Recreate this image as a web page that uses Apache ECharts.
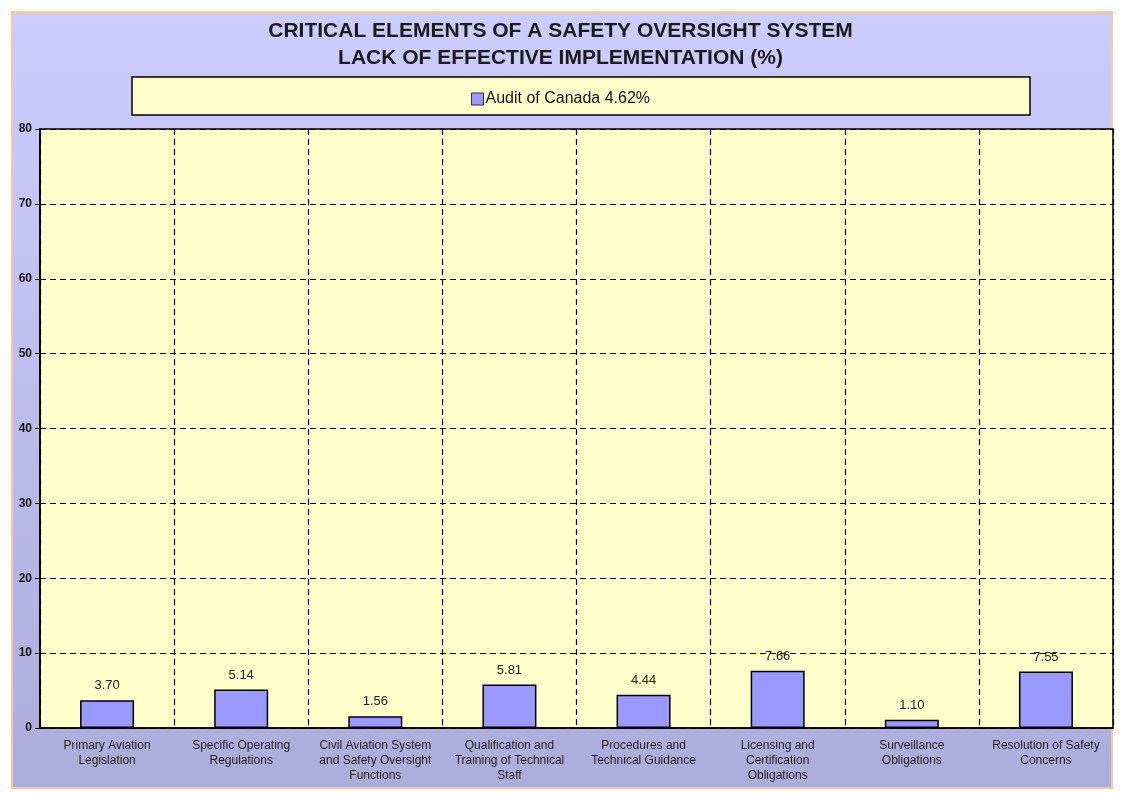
<!DOCTYPE html>
<html>
<head>
<meta charset="utf-8">
<script src="https://cdn.jsdelivr.net/npm/echarts@6/dist/echarts.min.js"></script>
<style>
  html, body { margin: 0; padding: 0; background: #fff; }
  #chart { width: 1121px; height: 793px; }
</style>
</head>
<body>
<div id="chart"></div>
<script>
// chart data
const categories = [
  'Primary Aviation\nLegislation',
  'Specific Operating\nRegulations',
  'Civil Aviation System\nand Safety Oversight\nFunctions',
  'Qualification and\nTraining of Technical\nStaff',
  'Procedures and\nTechnical Guidance',
  'Licensing and\nCertification\nObligations',
  'Surveillance\nObligations',
  'Resolution of Safety\nConcerns'
]
const seriesName = 'Audit of Canada 4.62%'
const values = [3.70, 5.14, 1.56, 5.81, 4.44, 7.66, 1.10, 7.55]
const titleLines = [
  'CRITICAL ELEMENTS OF A SAFETY OVERSIGHT SYSTEM',
  'LACK OF EFFECTIVE IMPLEMENTATION (%)'
]

let dom = echarts.init(document.getElementById('chart'))
let option = {
  backgroundColor: '#ffffff',
  animation: false,
  textStyle: { fontFamily: 'Liberation Sans, Arial, sans-serif' },
  graphic: [
    {
      type: 'rect',
      z: -10,
      shape: { x: 12, y: 12, width: 1100, height: 776 },
      style: {
        fill: {
          type: 'linear', x: 0, y: 0, x2: 0, y2: 1,
          colorStops: [
            { offset: 0, color: '#ccccff' },
            { offset: 1, color: '#adaddc' }
          ]
        },
        stroke: '#f8c8a0',
        lineWidth: 2
      }
    },
    {
      // legend frame
      type: 'rect',
      z: -5,
      shape: { x: 132, y: 77, width: 898, height: 38 },
      style: { fill: '#ffffcc', stroke: '#000', lineWidth: 1.5 }
    }
  ],
  title: {
    text: titleLines.join('\n'),
    left: 'center',
    top: 13,
    textStyle: {
      fontSize: 21,
      fontWeight: 'bold',
      color: '#1a1a1a',
      lineHeight: 27,
      fontFamily: 'Liberation Sans, Arial, sans-serif'
    }
  },
  legend: {
    data: [seriesName],
    left: 'center',
    top: 86,
    icon: 'rect',
    itemWidth: 12,
    itemHeight: 12,
    itemGap: 4,
    textStyle: { fontSize: 16, color: '#111', padding: [0, 0, 0, -3] },
    itemStyle: { borderColor: '#333', borderWidth: 1 }
  },
  grid: {
    left: 40,
    right: 8,
    top: 129,
    bottom: 65,
    show: true,
    backgroundColor: '#ffffcc',
    borderColor: '#000',
    borderWidth: 1.5
  },
  xAxis: {
    type: 'category',
    data: categories,
    axisLine: { lineStyle: { color: '#000', width: 1.5 } },
    axisTick: { show: false },
    axisLabel: {
      fontSize: 12,
      color: '#222',
      lineHeight: 15,
      margin: 10,
      interval: 0
    },
    splitLine: {
      show: true,
      lineStyle: { color: '#000', type: [6, 4], width: 1.2 }
    }
  },
  yAxis: {
    type: 'value',
    min: 0,
    max: 80,
    interval: 10,
    axisLine: { show: true, lineStyle: { color: '#000', width: 1.5 } },
    axisTick: { show: true, length: 5, lineStyle: { color: '#000' } },
    axisLabel: { fontSize: 12, fontWeight: 'bold', color: '#111', margin: 8 },
    splitLine: {
      show: true,
      lineStyle: { color: '#000', type: [6, 4], width: 1.2 }
    }
  },
  series: [{
    name: seriesName,
    type: 'bar',
    data: values,
    barWidth: 54,
    itemStyle: { color: '#9999ff', borderColor: '#000', borderWidth: 1.5 },
    label: {
      show: true,
      position: 'top',
      distance: 8,
      fontSize: 13,
      color: '#222',
      formatter: p => p.value.toFixed(2)
    }
  }]
}
dom.setOption(option)
</script>
</body>
</html>
